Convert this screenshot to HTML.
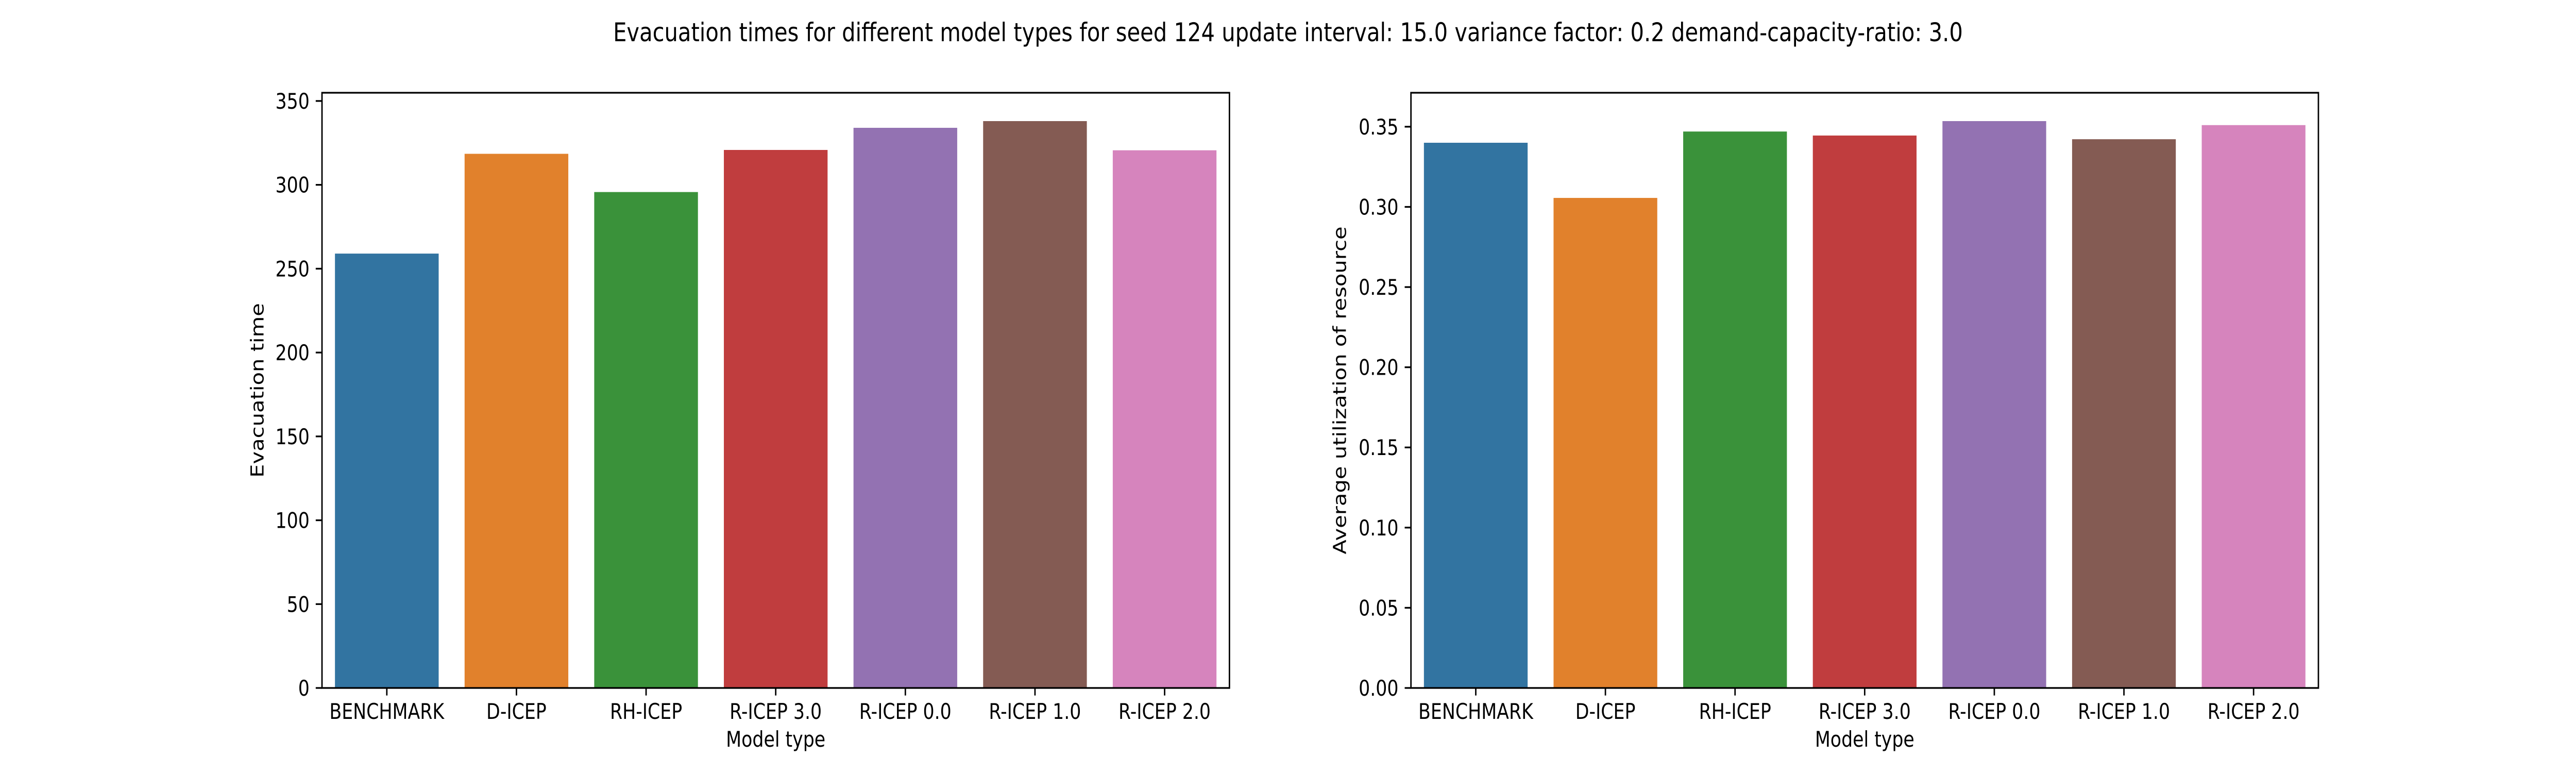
<!DOCTYPE html>
<html><head><meta charset="utf-8"><style>
html,body{margin:0;padding:0;background:#fff;width:100%;height:100%;overflow:hidden;}
svg{display:block;width:100vw;height:100vh;font-family:"DejaVu Sans","Liberation Sans",sans-serif;}
</style></head><body>
<svg id="fig" viewBox="0 0 6000 1500" preserveAspectRatio="none" xmlns="http://www.w3.org/2000/svg">
<rect width="6000" height="1500" fill="#fff"/>
<text x="3000" y="80" font-size="50" text-anchor="middle">Evacuation times for different model types for seed 124 update interval: 15.0 variance factor: 0.2 demand-capacity-ratio: 3.0</text>
</svg>
<script>
const categories = ["BENCHMARK","D-ICEP","RH-ICEP","R-ICEP 3.0","R-ICEP 0.0","R-ICEP 1.0","R-ICEP 2.0"];
const evacuationTimes = [259, 318.5, 295.7, 320.8, 334, 338, 320.6];
const utilization = [0.340, 0.3056, 0.347, 0.3445, 0.3535, 0.3422, 0.351];
const leftTicks = [0,50,100,150,200,250,300,350];
const leftTickLabels = ["0","50","100","150","200","250","300","350"];
const rightTicks = [0,0.05,0.10,0.15,0.20,0.25,0.30,0.35];
const rightTickLabels = ["0.00","0.05","0.10","0.15","0.20","0.25","0.30","0.35"];
const colors = ["#3274a1","#e1812c","#3a923a","#c03d3e","#9372b2","#845b53","#d684bd"];

const NS = "http://www.w3.org/2000/svg";
const svg = document.getElementById('fig');
function mk(tag, attrs, parent){
  const e = document.createElementNS(NS, tag);
  for (const k in attrs) e.setAttribute(k, attrs[k]);
  (parent||svg).appendChild(e);
  return e;
}
function drawPanel(x0, x1, top, bottom, values, ticks, tickLabels, prefix){
  const ymax = Math.max(...values) * 1.05;
  const n = categories.length;
  const xs = i => x0 + (i + 0.5) / n * (x1 - x0);
  const unit = (x1 - x0) / n;
  const ys = v => bottom - v / ymax * (bottom - top);
  const g = mk('g', {});
  
  
  values.forEach((v, i) => {
    const r = mk('rect', {x: xs(i) - 0.4*unit, y: ys(v), width: 0.8*unit, height: bottom - ys(v), fill: colors[i]}, g);
    
    
  });
  ticks.forEach((t, i) => {
    const y = ys(t);
    mk('line', {x1: x0 - 14.6, x2: x0, y1: y, y2: y, stroke: '#000', 'stroke-width': 3.3}, g);
    const tx = mk('text', {x: x0 - 29, y: y + 15, 'font-size': 41.7, 'text-anchor': 'end'}, g);
    tx.textContent = tickLabels[i];
    
    
  });
  categories.forEach((c, i) => {
    const x = xs(i);
    mk('line', {x1: x, x2: x, y1: bottom, y2: bottom + 14.6, stroke: '#000', 'stroke-width': 3.3}, g);
    const tx = mk('text', {x: x, y: bottom + 60, 'font-size': 41.7, 'text-anchor': 'middle'}, g);
    tx.textContent = c;
    
    
  });
  const frame = mk('rect', {x: x0, y: top, width: x1 - x0, height: bottom - top, fill: 'none', stroke: '#000', 'stroke-width': 3.3}, g);
  
  
  const xl = mk('text', {x: (x0 + x1)/2, y: bottom + 114, 'font-size': 41.7, 'text-anchor': 'middle'}, g);
  xl.textContent = 'Model type';
  
  
}
drawPanel(750, 2863.6, 180, 1335, evacuationTimes, leftTicks, leftTickLabels, 'left');
const yl1 = mk('text', {x: 0, y: 0, 'font-size': 41.7, 'text-anchor': 'middle', transform: 'translate(614,757.5) rotate(-90)'});
yl1.textContent = 'Evacuation time';


drawPanel(3286.4, 5400, 180, 1335, utilization, rightTicks, rightTickLabels, 'right');
const yl2 = mk('text', {x: 0, y: 0, 'font-size': 41.7, 'text-anchor': 'middle', transform: 'translate(3135,757.5) rotate(-90)'});
yl2.textContent = 'Average utilization of resource';


</script>
</body></html>
